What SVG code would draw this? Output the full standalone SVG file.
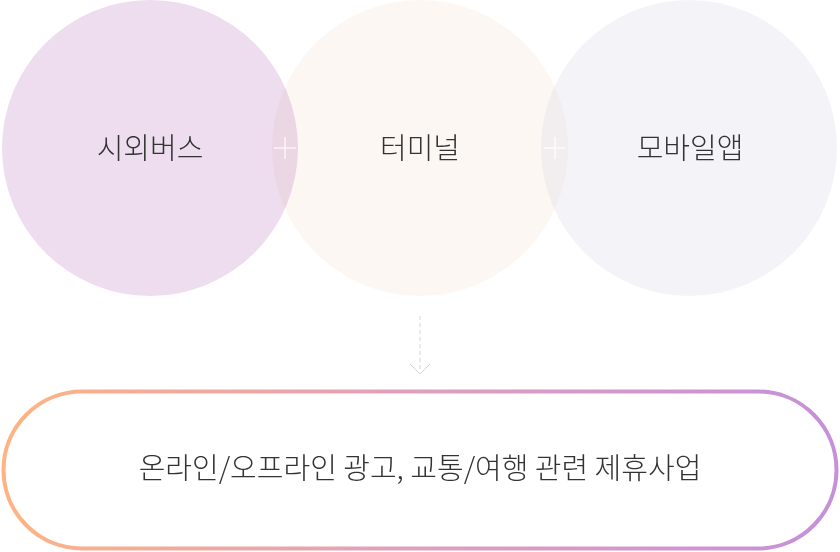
<svg xmlns="http://www.w3.org/2000/svg" width="840" height="552" viewBox="0 0 840 552">
<defs>
<linearGradient id="pill" x1="0" y1="0" x2="1" y2="0">
<stop offset="0" stop-color="#FFB383"/>
<stop offset="0.5" stop-color="#DDA0BE"/>
<stop offset="1" stop-color="#C690DA"/>
</linearGradient>
<style>
.lbl{font-family:"Noto Sans CJK KR","Noto Sans",sans-serif;font-size:29px;font-weight:300;fill:#333;text-anchor:middle}
.plus{stroke:#fff;stroke-width:1.3;opacity:0.85}
</style>
</defs>
<g id="node-bus"><circle cx="150" cy="148" r="148" fill="#EDDDEF"/><text class="lbl" x="150" y="159">시외버스</text></g>
<g id="node-terminal"><circle cx="420" cy="148" r="148" fill="#FCF2EC" fill-opacity="0.6" style="mix-blend-mode:multiply"/><text class="lbl" x="420" y="159">터미널</text></g>
<g id="node-app"><circle cx="689" cy="148" r="148" fill="#F1F1F6" fill-opacity="0.8" style="mix-blend-mode:multiply"/><text class="lbl" x="690" y="159">모바일앱</text></g>
<g id="plus1"><line class="plus" x1="274" y1="148" x2="296" y2="148"/><line class="plus" x1="285" y1="137" x2="285" y2="159"/></g>
<g id="plus2"><line class="plus" x1="544" y1="148" x2="566" y2="148"/><line class="plus" x1="555" y1="137" x2="555" y2="159"/></g>
<g id="connectors">
<line x1="420" y1="316" x2="420" y2="372" stroke="#d4d4d4" stroke-width="1" stroke-dasharray="4 3"/>
<polyline points="410,364 420,374 430,364" fill="none" stroke="#d4d4d4" stroke-width="1"/>
</g>
<g id="node-business">
<rect x="3.5" y="391.5" width="833" height="157" rx="78.5" fill="#fff" stroke="url(#pill)" stroke-width="4"/>
<text class="lbl" x="420" y="479">온라인/오프라인 광고, 교통/여행 관련 제휴사업</text>
</g>
</svg>
